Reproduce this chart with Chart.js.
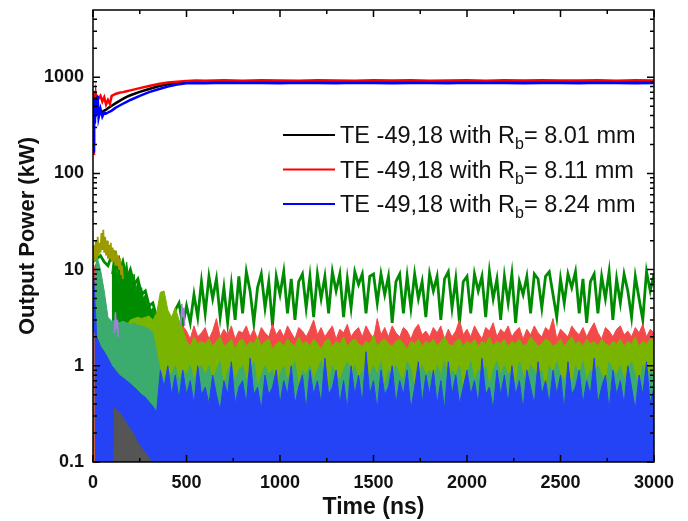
<!DOCTYPE html>
<html>
<head>
<meta charset="utf-8">
<title>Output power vs time</title>
<script src="https://cdn.jsdelivr.net/npm/chart.js@4.4.1/dist/chart.umd.min.js"></script>
<style>
  html, body { margin: 0; padding: 0; background: #fff; }
  #wrap { width: 688px; height: 521px; }
</style>
</head>
<body>
<div id="wrap"><canvas id="grafico" width="688" height="521"></canvas></div>
<script>
// main modes TE -49,18, three beam radii
const tMain = [0, 5, 10, 15, 20, 25, 30, 40, 50, 60, 70, 80, 90, 100, 120, 140, 160, 180, 200,
  250, 300, 350, 400, 450, 500, 550, 600, 700, 800, 900, 1000, 1100, 1200, 1300, 1400, 1500,
  1600, 1700, 1800, 1900, 2000, 2100, 2200, 2300, 2400, 2500, 2600, 2700, 2800, 2900, 3000];

const blackMain = [200, 420, 380, 450, 430, 440, 420, 430, 440, 450, 460, 475, 490, 505, 535, 565, 595, 625, 650,
  705, 755, 805, 845, 875, 890, 895, 895, 896, 894, 897, 895, 893, 896, 895, 894,
  897, 895, 893, 896, 894, 895, 897, 894, 896, 895, 893, 896, 895, 894, 897, 895];

const redMain = [160, 720, 480, 660, 560, 620, 600, 640, 560, 620, 520, 580, 530, 640, 670, 690, 700, 715, 730,
  770, 810, 850, 880, 900, 915, 925, 920, 928, 922, 930, 925, 920, 932, 926, 921,
  929, 924, 931, 922, 927, 933, 921, 928, 924, 930, 923, 927, 931, 922, 928, 925];

const blueMain = [170, 620, 330, 600, 400, 640, 380, 470, 390, 430, 420, 430, 440, 450, 480, 505, 530, 555, 580,
  640, 700, 750, 800, 840, 865, 872, 868, 875, 870, 872, 866, 874, 870, 868, 875,
  871, 866, 873, 870, 868, 874, 869, 872, 866, 873, 870, 868, 874, 870, 867, 872];

const legendRb = ['8.01', '8.11', '8.24'];
const legendColors = ['#000000', '#ff0000', '#0000ff'];

// competing modes, sampled every 20 ns
const tNoise = [
  0, 20, 40, 60, 80, 100, 120, 140, 160, 180,
  200, 220, 240, 260, 280, 300, 320, 340, 360, 380,
  400, 420, 440, 460, 480, 500, 520, 540, 560, 580,
  600, 620, 640, 660, 680, 700, 720, 740, 760, 780,
  800, 820, 840, 860, 880, 900, 920, 940, 960, 980,
  1000, 1020, 1040, 1060, 1080, 1100, 1120, 1140, 1160, 1180,
  1200, 1220, 1240, 1260, 1280, 1300, 1320, 1340, 1360, 1380,
  1400, 1420, 1440, 1460, 1480, 1500, 1520, 1540, 1560, 1580,
  1600, 1620, 1640, 1660, 1680, 1700, 1720, 1740, 1760, 1780,
  1800, 1820, 1840, 1860, 1880, 1900, 1920, 1940, 1960, 1980,
  2000, 2020, 2040, 2060, 2080, 2100, 2120, 2140, 2160, 2180,
  2200, 2220, 2240, 2260, 2280, 2300, 2320, 2340, 2360, 2380,
  2400, 2420, 2440, 2460, 2480, 2500, 2520, 2540, 2560, 2580,
  2600, 2620, 2640, 2660, 2680, 2700, 2720, 2740, 2760, 2780,
  2800, 2820, 2840, 2860, 2880, 2900, 2920, 2940, 2960, 2980,
  3000];

const greenMode = [
  12, 13, 14, 12, 11, 14, 15, 9, 12, 8,
  10, 7, 8, 5.5, 6, 4.2, 4.5, 3.2, 3.5, 2.6,
  2.8, 2.2, 3.8, 4.5, 2.6, 4.2, 2.8, 5.5, 3.2, 7.5,
  3.5, 8.5, 5, 8, 3.2, 6.5, 2.8, 7, 3, 8.5,
  3.5, 9.5, 6, 2.8, 6.5, 9, 4, 7.5, 2.6, 8.5,
  5.5, 9.5, 3.5, 8, 3, 7.5, 9, 4, 8.5, 3.2,
  9, 5, 8.5, 3.5, 9.5, 6, 9, 3.2, 8, 4,
  9.5, 7, 9, 3.5, 8.5, 9, 4.5, 9, 5.5, 8.5,
  2.8, 7.5, 9, 3.5, 8.5, 4, 9, 5, 7.5, 3.2,
  9, 6, 8.5, 3, 8, 9.5, 4, 8, 2.8, 7.5,
  8.5, 3.5, 9, 6, 8.5, 3.2, 9.5, 5, 8, 3,
  8.5, 4.5, 9, 2.8, 7.5, 5.5, 8.5, 3.5, 9, 8,
  4, 8.5, 9.5, 5.5, 3.2, 8, 4.5, 9, 6.5, 9.5,
  3.5, 8, 2.8, 7.5, 9, 3.5, 8.5, 5, 9.5, 3,
  8, 4.5, 9, 6, 3.2, 8.5, 5, 3, 9.5, 6,
  9];

const redMode = [
  10, 12, 3, 2.5, 2.2, 2, 2.2, 2, 2, 2.2,
  2, 2.2, 2, 2.2, 2.2, 2.4, 2.2, 2.5, 2.0, 2.4,
  2.6, 2.2, 2.5, 2.0, 2.6, 2.3, 1.9, 2.6, 2.0, 2.2,
  2.5, 1.9, 2.3, 3.1, 2.0, 2.4, 2.1, 2.6, 1.9, 2.3,
  2.2, 2.6, 2.0, 2.4, 1.9, 2.5, 2.2, 2.0, 2.7, 2.1,
  2.4, 2.0, 2.6, 2.2, 1.9, 2.5, 2.3, 2.0, 2.4, 3.0,
  2.1, 2.5, 2.0, 2.3, 2.6, 1.9, 2.4, 2.2, 2.7, 2.0,
  2.3, 2.5, 2.0, 2.6, 2.2, 1.9, 3.1, 2.1, 2.5, 2.0,
  2.6, 2.2, 2.0, 2.5, 2.3, 1.9, 2.4, 2.7, 2.1, 2.3,
  2.0, 2.5, 2.2, 2.6, 1.9, 2.4, 2.0, 2.3, 3.0, 2.1,
  2.4, 2.0, 2.6, 2.2, 1.9, 2.5, 2.3, 2.8, 2.0, 2.4,
  2.2, 2.6, 2.0, 2.3, 2.5, 1.9, 2.4, 2.1, 2.6, 2.2,
  2.0, 2.5, 2.3, 3.1, 1.9, 2.4, 2.2, 2.0, 2.6, 2.3,
  2.1, 2.5, 2.0, 2.4, 2.8, 2.2, 1.9, 2.5, 2.3, 2.0,
  2.4, 2.6, 2.1, 2.3, 2.0, 2.5, 2.2, 2.7, 2.0, 2.4,
  2.2];

const limeMode = [
  0.8, 1.5, 2.0, 2.2, 2.0, 1.8, 2.0, 2.2, 2.4, 2.6,
  3.0, 3.1, 3.2, 3.1, 3.2, 3.3, 3.0, 3.5, 5.8, 6.0,
  3.8, 3.2, 4.0, 3.0, 2.4, 1.8, 1.6, 2.0, 1.7, 1.8,
  1.7, 1.9, 1.6, 1.8, 2.0, 1.6, 1.7, 1.9, 1.5, 1.8,
  1.9, 1.6, 1.8, 1.7, 2.0, 1.6, 1.8, 1.9, 1.5, 1.7,
  1.8, 1.6, 1.9, 1.7, 1.6, 2.0, 1.7, 1.8, 1.6, 1.9,
  1.7, 1.5, 1.8, 1.9, 1.6, 1.8, 1.7, 2.0, 1.6, 1.8,
  1.9, 1.7, 1.6, 1.8, 1.7, 2.1, 1.6, 1.8, 1.9, 1.7,
  1.6, 1.8, 1.9, 1.7, 1.5, 1.8, 1.7, 1.9, 1.6, 1.8,
  1.7, 1.9, 1.6, 1.8, 2.0, 1.7, 1.6, 1.8, 1.9, 1.6,
  1.8, 1.7, 1.9, 1.6, 1.8, 1.7, 2.0, 1.6, 1.8, 1.7,
  1.9, 1.6, 1.8, 1.7, 1.9, 1.6, 1.7, 2.0, 1.8, 1.6,
  1.7, 1.9, 1.8, 1.6, 1.7, 1.9, 1.6, 1.8, 2.0, 1.7,
  1.8, 1.6, 1.9, 1.7, 1.8, 1.6, 1.9, 1.7, 1.6, 1.8,
  1.7, 1.9, 1.6, 1.8, 1.7, 2.0, 1.6, 1.8, 1.7, 1.9,
  1.8];

const tealMode = [
  0.5, 14, 10, 6, 3.2, 2.9, 3.0, 2.8, 2.9, 2.8,
  2.7, 2.8, 2.6, 2.6, 2.5, 2.4, 2.2, 1.4, 0.9, 0.7,
  0.9, 0.8, 1.0, 0.7, 0.9, 0.8, 1.0, 0.7, 0.9, 1.0,
  0.8, 1.0, 0.7, 0.9, 1.1, 0.6, 0.9, 1.0, 0.7, 0.9,
  1.0, 0.7, 0.9, 1.1, 0.6, 0.8, 1.0, 0.8, 0.9, 0.5,
  0.8, 1.0, 0.7, 0.9, 1.1, 0.6, 0.9, 0.8, 1.0, 0.7,
  0.9, 1.1, 0.7, 0.6, 1.0, 0.8, 0.7, 0.9, 1.1, 0.8,
  1.0, 0.7, 0.9, 0.5, 0.8, 1.0, 0.8, 1.1, 0.6, 0.9,
  0.8, 1.0, 0.8, 0.7, 1.1, 0.9, 0.6, 0.8, 1.0, 0.8,
  0.9, 0.7, 1.0, 0.8, 1.1, 0.7, 0.9, 0.8, 1.0, 0.5,
  0.8, 1.1, 0.7, 0.9, 0.8, 1.0, 0.6, 0.9, 1.1, 0.8,
  1.0, 0.8, 0.9, 0.6, 1.1, 0.8, 0.7, 1.0, 0.9, 0.7,
  0.9, 0.5, 1.0, 0.8, 1.1, 0.8, 0.7, 0.9, 0.6, 1.0,
  0.8, 1.1, 0.7, 0.9, 0.8, 1.0, 0.8, 0.6, 1.1, 0.9,
  0.8, 1.0, 0.7, 0.9, 1.1, 0.8, 0.6, 1.0, 0.8, 0.9,
  0.8];

const blueMode = [
  12, 2.0, 1.6, 1.4, 1.2, 1.0, 0.9, 0.8, 0.75, 0.7,
  0.65, 0.6, 0.55, 0.5, 0.47, 0.42, 0.38, 0.33, 0.9, 0.6,
  1.0, 0.5, 0.8, 0.45, 0.9, 0.5, 0.7, 0.4, 1.0, 0.5,
  0.6, 0.4, 0.8, 0.5, 0.35, 0.7, 0.5, 1.1, 0.4, 0.6,
  0.7, 0.4, 1.2, 0.5, 0.6, 0.35, 0.8, 0.5, 0.6, 0.9,
  0.4, 0.7, 0.5, 1.0, 0.4, 0.6, 0.8, 0.35, 0.9, 0.5,
  0.7, 0.4, 1.2, 0.5, 0.6, 0.9, 0.4, 0.7, 0.35, 1.0,
  0.5, 0.8, 0.4, 1.4, 0.5, 0.7, 0.35, 0.9, 0.5, 0.6,
  1.0, 0.4, 0.7, 0.5, 0.9, 0.35, 0.6, 1.1, 0.4, 0.8,
  0.5, 0.9, 0.4, 0.7, 0.35, 1.1, 0.5, 0.8, 0.4, 0.6,
  0.9, 0.5, 0.7, 0.4, 1.2, 0.5, 0.6, 0.35, 0.9, 0.5,
  0.8, 0.4, 1.0, 0.5, 0.7, 0.35, 0.9, 0.6, 0.4, 1.1,
  0.5, 0.7, 0.4, 0.9, 0.5, 0.8, 0.35, 1.1, 0.5, 0.6,
  0.9, 0.4, 0.7, 0.5, 1.2, 0.4, 0.6, 0.8, 0.35, 0.9,
  0.5, 0.7, 0.4, 1.0, 0.6, 0.35, 0.8, 0.5, 1.1, 0.4,
  0.6];

// dense green burst during start-up
const tGreenEarly = [100, 110, 120, 130, 140, 150, 160, 170, 180, 190, 200, 210, 220,
  230, 240, 250, 260, 270, 280, 290, 300, 310, 320, 330, 340];
const greenEarly = [9, 13, 15, 8, 14, 11, 13, 9, 12, 8, 10, 7, 9,
  6, 8, 5.5, 6.5, 5, 5.5, 4.2, 4.5, 3.8, 4, 3.2, 3];

// short-lived modes at start-up
const tOlive = [0, 5, 10, 15, 20, 25, 30, 35, 40, 45, 50, 55, 60, 65, 70, 75, 80,
  85, 90, 95, 100, 105, 110, 115, 120, 125, 130, 135, 140, 145, 150, 155, 160];
const oliveMode = [13, 18, 12, 20, 13, 22, 14, 19, 15, 24, 16, 26, 15, 22, 14, 20, 13,
  18, 13, 19, 12, 17, 12, 16, 11, 15, 11, 14, 10, 13, 9, 11, 8];

const tGray = [110, 115, 140, 160, 180, 200, 220, 240, 260, 280, 300, 320, 330];
const grayMode = [0.05, 0.37, 0.33, 0.29, 0.25, 0.22, 0.19, 0.16, 0.14, 0.125, 0.11, 0.1, 0.05];

const tPurple = [115, 120, 125, 130, 135, 300, 470, 475, 480, 485, 490];
const purpleMode = [2.2, 3.6, 2.4, 3.0, 2.0, null, 2.6, 4.4, 3.2, 4.0, 2.6];

const tOrange = [2, 4, 6];
const orangeMode = [0.05, 2.2, 0.05];

// axis ticks
const xMajor = [0, 500, 1000, 1500, 2000, 2500, 3000];
const xMinor = [250, 750, 1250, 1750, 2250, 2750];
const yMajor = [0.1, 1, 10, 100, 1000];
const yMinor = [0.2, 0.3, 0.4, 0.5, 0.6, 0.7, 0.8, 0.9, 2, 3, 4, 5, 6, 7, 8, 9,
  20, 30, 40, 50, 60, 70, 80, 90, 200, 300, 400, 500, 600, 700, 800, 900, 2000, 3000, 4000];

const FONT = '"Liberation Sans", Arial, Helvetica, sans-serif';

function pts(t, v) {
  return t.map((x, i) => ({ x: x, y: v[i] }));
}

function mainLine(t, v, color) {
  return { data: pts(t, v), borderColor: color, borderWidth: 2.5, fill: false };
}

function modeLine(t, v, color, width) {
  return { data: pts(t, v), borderColor: color, borderWidth: width, fill: false };
}

function modeArea(t, v, color) {
  return { data: pts(t, v), borderColor: color, backgroundColor: color, borderWidth: 1, fill: 'start' };
}

// frame, inward ticks on all four sides, legend with subscript
const frameAndLegend = {
  id: 'frameAndLegend',
  afterDraw(chart) {
    const { ctx, chartArea: a, scales: { x, y } } = chart;
    ctx.save();
    ctx.strokeStyle = '#000';
    ctx.lineWidth = 1.5;
    ctx.strokeRect(a.left, a.top, a.right - a.left, a.bottom - a.top);

    ctx.beginPath();
    const xt = (list, len) => list.forEach(v => {
      const px = x.getPixelForValue(v);
      ctx.moveTo(px, a.bottom); ctx.lineTo(px, a.bottom - len);
      ctx.moveTo(px, a.top); ctx.lineTo(px, a.top + len);
    });
    const yt = (list, len) => list.forEach(v => {
      const py = y.getPixelForValue(v);
      ctx.moveTo(a.left, py); ctx.lineTo(a.left + len, py);
      ctx.moveTo(a.right, py); ctx.lineTo(a.right - len, py);
    });
    xt(xMajor, 7); xt(xMinor, 4);
    yt(yMajor, 7); yt(yMinor, 4);
    ctx.stroke();

    // legend
    const big = '23.5px ' + FONT;
    const small = '16px ' + FONT;
    legendRb.forEach((rb, i) => {
      const row = 135 + i * 34.5;
      ctx.strokeStyle = legendColors[i];
      ctx.lineWidth = 2;
      ctx.beginPath();
      ctx.moveTo(283, row); ctx.lineTo(335, row);
      ctx.stroke();

      ctx.fillStyle = '#111';
      ctx.textBaseline = 'alphabetic';
      ctx.textAlign = 'left';
      let tx = 340;
      const base = row + 8;
      ctx.font = big;
      const head = 'TE -49,18 with R';
      ctx.fillText(head, tx, base);
      tx += ctx.measureText(head).width;
      ctx.font = small;
      ctx.fillText('b', tx, base + 6);
      tx += ctx.measureText('b').width;
      ctx.font = big;
      ctx.fillText('= ' + rb + ' mm', tx, base);
    });
    ctx.restore();
  }
};

const chart = new Chart(document.getElementById('grafico'), {
  type: 'line',
  data: {
    datasets: [
      mainLine(tMain, blueMain, legendColors[2]),
      mainLine(tMain, redMain, legendColors[1]),
      mainLine(tMain, blackMain, legendColors[0]),
      modeLine(tOrange, orangeMode, '#ff6a00', 1.5),
      modeLine(tPurple, purpleMode, '#a67de0', 1.5),
      modeLine(tOlive, oliveMode, '#9b9b00', 1.8),
      modeArea(tGray, grayMode, '#555555'),
      modeArea(tNoise, blueMode, '#2443f5'),
      modeArea(tNoise, tealMode, '#3cab6e'),
      modeArea(tNoise, limeMode, '#79b400'),
      modeArea(tNoise, redMode, '#f24a4a'),
      modeArea(tGreenEarly, greenEarly, '#008c00'),
      modeLine(tNoise, greenMode, '#008c00', 2.8)
    ]
  },
  options: {
    responsive: false,
    animation: false,
    events: [],
    layout: { padding: { top: 10, right: 34, bottom: 0, left: 0 } },
    elements: { point: { radius: 0 }, line: { tension: 0 } },
    plugins: { legend: { display: false }, tooltip: { enabled: false } },
    scales: {
      x: {
        type: 'linear',
        min: 0,
        max: 3000,
        grid: { display: false, drawTicks: false },
        border: { display: false },
        afterFit: (s) => { s.height = 59; s.paddingLeft = 0; s.paddingRight = 0; },
        afterBuildTicks: (s) => { s.ticks = xMajor.map(v => ({ value: v })); },
        ticks: {
          padding: 10,
          color: '#111',
          maxRotation: 0,
          font: { family: FONT, size: 18, weight: 'bold' },
          callback: (v) => String(v)
        },
        title: {
          display: true,
          text: 'Time (ns)',
          color: '#111',
          padding: { top: 0, bottom: 0 },
          font: { family: FONT, size: 23, weight: 'bold' }
        }
      },
      y: {
        type: 'logarithmic',
        min: 0.1,
        max: 5000,
        grid: { display: false, drawTicks: false },
        border: { display: false },
        afterFit: (s) => { s.width = 93; s.paddingTop = 0; s.paddingBottom = 0; },
        afterBuildTicks: (s) => { s.ticks = yMajor.map(v => ({ value: v })); },
        ticks: {
          padding: 9,
          color: '#111',
          font: { family: FONT, size: 18, weight: 'bold' },
          callback: (v) => String(v)
        },
        title: {
          display: true,
          text: 'Output Power (kW)',
          color: '#111',
          padding: { top: 15, bottom: 0 },
          font: { family: FONT, size: 22, weight: 'bold' }
        }
      }
    }
  },
  plugins: [frameAndLegend]
});
</script>
</body>
</html>
